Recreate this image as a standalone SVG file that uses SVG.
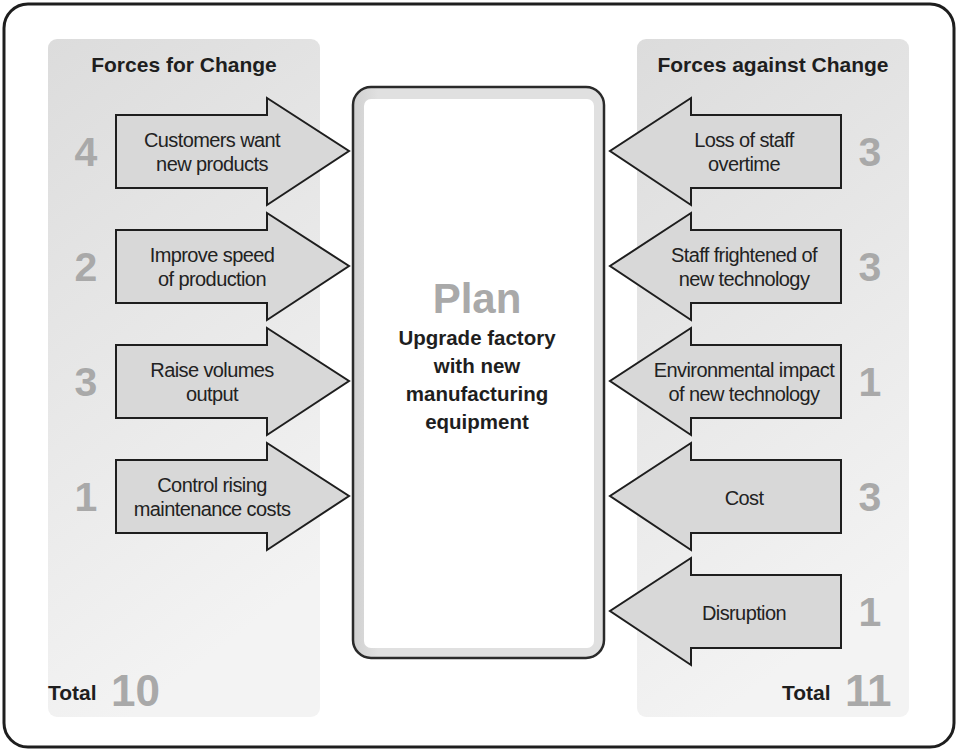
<svg xmlns="http://www.w3.org/2000/svg" width="959" height="751" viewBox="0 0 959 751">
<style>
.frame{fill:#fff;stroke:#1e1e1e;stroke-width:3}
.panel{fill:url(#pg)}
.arrow{fill:#d8d8d8;stroke:#1e1e1e;stroke-width:2;stroke-linejoin:miter}
.lbl{font-family:"Liberation Sans",Arial,sans-serif;font-size:20px;fill:#222;text-anchor:middle;letter-spacing:-0.6px}
.num{font-family:"Liberation Sans",Arial,sans-serif;font-weight:bold;font-size:41px;fill:#a9a9a9;text-anchor:middle}
.hdr{font-family:"Liberation Sans",Arial,sans-serif;font-weight:bold;font-size:21px;fill:#1e1e1e;text-anchor:middle}
.tot{font-family:"Liberation Sans",Arial,sans-serif;font-weight:bold;font-size:21px;fill:#1e1e1e}
.totn{font-family:"Liberation Sans",Arial,sans-serif;font-weight:bold;font-size:44px;fill:#a9a9a9}
.plan{font-family:"Liberation Sans",Arial,sans-serif;font-weight:bold;font-size:42px;fill:#a9a9a9;text-anchor:middle}
.ptxt{font-family:"Liberation Sans",Arial,sans-serif;font-weight:bold;font-size:20.5px;fill:#1e1e1e;text-anchor:middle}
</style>
<defs>
<linearGradient id="pg" x1="0" y1="0" x2="0.3" y2="1">
<stop offset="0" stop-color="#dcdcdc"/>
<stop offset="1" stop-color="#f3f3f3"/>
</linearGradient>
<linearGradient id="bev" x1="0" y1="0" x2="1" y2="0">
<stop offset="0" stop-color="#d0d0d0"/>
<stop offset="0.1" stop-color="#e0e0e0"/>
<stop offset="1" stop-color="#e0e0e0"/>
</linearGradient>
</defs>
<rect class="frame" x="4" y="4" width="950" height="743" rx="24"/>
<g id="panel-for">
<rect class="panel" x="48" y="39" width="272" height="678" rx="9"/>
<text class="hdr" x="184" y="72">Forces for Change</text>
<text class="tot" x="48" y="700">Total</text>
<text class="totn" x="111" y="706">10</text>
</g>
<g id="panel-against">
<rect class="panel" x="637" y="39" width="272" height="678" rx="9"/>
<text class="hdr" x="773" y="72">Forces against Change</text>
<text class="tot" x="782" y="700">Total</text>
<text class="totn" x="845" y="706">11</text>
</g>
<g id="plan">
<rect x="353" y="87" width="251" height="571" rx="18" fill="url(#bev)" stroke="#2a2a2a" stroke-width="2.5"/>
<rect x="364" y="99" width="230" height="549" rx="7" fill="#fff"/>
<text class="plan" x="477" y="313">Plan</text>
<text class="ptxt" x="477" y="345">Upgrade factory</text>
<text class="ptxt" x="477" y="373">with new</text>
<text class="ptxt" x="477" y="401">manufacturing</text>
<text class="ptxt" x="477" y="429">equipment</text>
</g>
<g id="connectors">
<g id="for1">
<path class="arrow" d="M116,115 H267 V98 L349,151 L267,205 V188 H116 Z"/>
<text class="lbl" x="212" y="147">Customers want</text>
<text class="lbl" x="212" y="171">new products</text>
<text class="num" x="86" y="166">4</text>
</g>
<g id="for2">
<path class="arrow" d="M116,230 H267 V213 L349,266 L267,320 V303 H116 Z"/>
<text class="lbl" x="212" y="262">Improve speed</text>
<text class="lbl" x="212" y="286">of production</text>
<text class="num" x="86" y="281">2</text>
</g>
<g id="for3">
<path class="arrow" d="M116,345 H267 V328 L349,381 L267,435 V418 H116 Z"/>
<text class="lbl" x="212" y="377">Raise volumes</text>
<text class="lbl" x="212" y="401">output</text>
<text class="num" x="86" y="396">3</text>
</g>
<g id="for4">
<path class="arrow" d="M116,460 H267 V443 L349,496 L267,550 V533 H116 Z"/>
<text class="lbl" x="212" y="492">Control rising</text>
<text class="lbl" x="212" y="516">maintenance costs</text>
<text class="num" x="86" y="511">1</text>
</g>
<g id="against1">
<path class="arrow" d="M841,115 H691 V98 L610,151 L691,205 V188 H841 Z"/>
<text class="lbl" x="744" y="147">Loss of staff</text>
<text class="lbl" x="744" y="171">overtime</text>
<text class="num" x="870" y="166">3</text>
</g>
<g id="against2">
<path class="arrow" d="M841,230 H691 V213 L610,266 L691,320 V303 H841 Z"/>
<text class="lbl" x="744" y="262">Staff frightened of</text>
<text class="lbl" x="744" y="286">new technology</text>
<text class="num" x="870" y="281">3</text>
</g>
<g id="against3">
<path class="arrow" d="M841,345 H691 V328 L610,381 L691,435 V418 H841 Z"/>
<text class="lbl" x="744" y="377">Environmental impact</text>
<text class="lbl" x="744" y="401">of new technology</text>
<text class="num" x="870" y="396">1</text>
</g>
<g id="against4">
<path class="arrow" d="M841,460 H691 V443 L610,496 L691,550 V533 H841 Z"/>
<text class="lbl" x="744" y="505">Cost</text>
<text class="num" x="870" y="511">3</text>
</g>
<g id="against5">
<path class="arrow" d="M841,575 H691 V558 L610,611 L691,665 V648 H841 Z"/>
<text class="lbl" x="744" y="620">Disruption</text>
<text class="num" x="870" y="626">1</text>
</g>
</g>
</svg>
